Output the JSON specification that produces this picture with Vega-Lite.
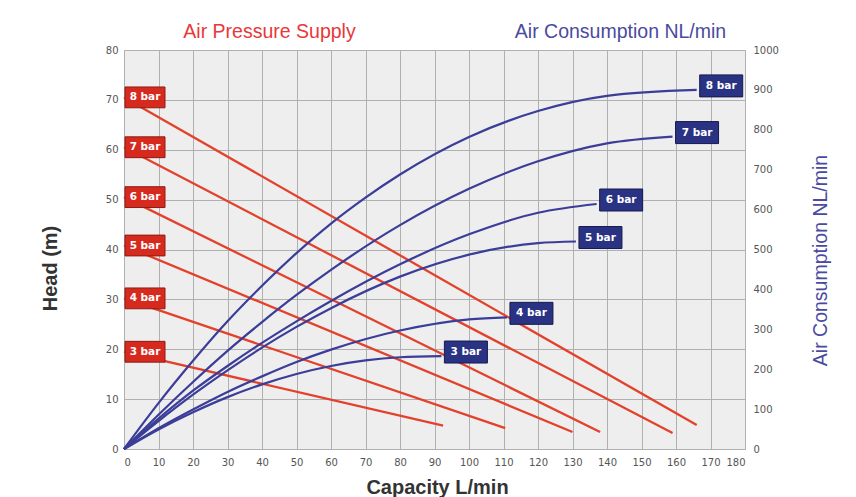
{
"$schema": "https://vega.github.io/schema/vega-lite/v6.json",
"width": 621, "height": 399,
"autosize": {"type": "none"},
"padding": {"left": 124, "top": 50, "right": 111, "bottom": 48},
"background": "#ffffff",
"config": {
  "view": {"fill": "#eeeeee", "stroke": "#a8a8a8", "strokeWidth": 1},
  "axis": {"labelFont": "DejaVu Sans", "labelFontSize": 10, "labelColor": "#555555", "ticks": false, "domain": false, "gridColor": "#b0b0b0", "gridWidth": 1, "titleFont": "Liberation Sans"}
},
"datasets": {
  "pressure": [
    {"bar": "8 bar", "capacity": 0, "head": 70.5}, {"bar": "8 bar", "capacity": 166, "head": 4.8},
    {"bar": "7 bar", "capacity": 0, "head": 60.5}, {"bar": "7 bar", "capacity": 159, "head": 3.2},
    {"bar": "6 bar", "capacity": 0, "head": 50.5}, {"bar": "6 bar", "capacity": 138, "head": 3.4},
    {"bar": "5 bar", "capacity": 0, "head": 40.8}, {"bar": "5 bar", "capacity": 130, "head": 3.4},
    {"bar": "4 bar", "capacity": 0, "head": 30.2}, {"bar": "4 bar", "capacity": 110.5, "head": 4.2},
    {"bar": "3 bar", "capacity": 0, "head": 19.5}, {"bar": "3 bar", "capacity": 92.5, "head": 4.7}
  ],
  "air": [
    {"bar": "8 bar", "capacity": 0, "air": 0}, {"bar": "8 bar", "capacity": 10, "air": 115}, {"bar": "8 bar", "capacity": 20, "air": 221}, {"bar": "8 bar", "capacity": 30, "air": 320}, {"bar": "8 bar", "capacity": 40, "air": 409}, {"bar": "8 bar", "capacity": 50, "air": 491}, {"bar": "8 bar", "capacity": 60, "air": 565}, {"bar": "8 bar", "capacity": 70, "air": 630}, {"bar": "8 bar", "capacity": 80, "air": 688}, {"bar": "8 bar", "capacity": 100, "air": 782}, {"bar": "8 bar", "capacity": 120, "air": 847}, {"bar": "8 bar", "capacity": 140, "air": 885}, {"bar": "8 bar", "capacity": 166, "air": 900},
    {"bar": "7 bar", "capacity": 0, "air": 0}, {"bar": "7 bar", "capacity": 10, "air": 86}, {"bar": "7 bar", "capacity": 20, "air": 168}, {"bar": "7 bar", "capacity": 30, "air": 246}, {"bar": "7 bar", "capacity": 40, "air": 318}, {"bar": "7 bar", "capacity": 50, "air": 386}, {"bar": "7 bar", "capacity": 60, "air": 449}, {"bar": "7 bar", "capacity": 80, "air": 561}, {"bar": "7 bar", "capacity": 100, "air": 652}, {"bar": "7 bar", "capacity": 120, "air": 721}, {"bar": "7 bar", "capacity": 140, "air": 766}, {"bar": "7 bar", "capacity": 159, "air": 783},
    {"bar": "6 bar", "capacity": 0, "air": 0}, {"bar": "6 bar", "capacity": 10, "air": 76}, {"bar": "6 bar", "capacity": 20, "air": 146}, {"bar": "6 bar", "capacity": 30, "air": 208}, {"bar": "6 bar", "capacity": 40, "air": 266}, {"bar": "6 bar", "capacity": 50, "air": 320}, {"bar": "6 bar", "capacity": 60, "air": 371}, {"bar": "6 bar", "capacity": 80, "air": 463}, {"bar": "6 bar", "capacity": 100, "air": 538}, {"bar": "6 bar", "capacity": 120, "air": 592}, {"bar": "6 bar", "capacity": 137, "air": 614},
    {"bar": "5 bar", "capacity": 0, "air": 0}, {"bar": "5 bar", "capacity": 10, "air": 70}, {"bar": "5 bar", "capacity": 20, "air": 136}, {"bar": "5 bar", "capacity": 30, "air": 197}, {"bar": "5 bar", "capacity": 40, "air": 254}, {"bar": "5 bar", "capacity": 50, "air": 306}, {"bar": "5 bar", "capacity": 60, "air": 353}, {"bar": "5 bar", "capacity": 80, "air": 432}, {"bar": "5 bar", "capacity": 100, "air": 487}, {"bar": "5 bar", "capacity": 120, "air": 516}, {"bar": "5 bar", "capacity": 131, "air": 520},
    {"bar": "4 bar", "capacity": 0, "air": 0}, {"bar": "4 bar", "capacity": 10, "air": 52}, {"bar": "4 bar", "capacity": 20, "air": 99}, {"bar": "4 bar", "capacity": 30, "air": 143}, {"bar": "4 bar", "capacity": 40, "air": 182}, {"bar": "4 bar", "capacity": 50, "air": 218}, {"bar": "4 bar", "capacity": 60, "air": 249}, {"bar": "4 bar", "capacity": 80, "air": 297}, {"bar": "4 bar", "capacity": 100, "air": 325}, {"bar": "4 bar", "capacity": 111, "air": 330},
    {"bar": "3 bar", "capacity": 0, "air": 0}, {"bar": "3 bar", "capacity": 10, "air": 49}, {"bar": "3 bar", "capacity": 20, "air": 92}, {"bar": "3 bar", "capacity": 30, "air": 130}, {"bar": "3 bar", "capacity": 40, "air": 162}, {"bar": "3 bar", "capacity": 50, "air": 188}, {"bar": "3 bar", "capacity": 60, "air": 208}, {"bar": "3 bar", "capacity": 70, "air": 222}, {"bar": "3 bar", "capacity": 80, "air": 230}, {"bar": "3 bar", "capacity": 92, "air": 233}
  ]
},
"layer": [
  {
    "data": {"name": "pressure"},
    "mark": {"type": "line", "color": "#e3412b", "strokeWidth": 2.3},
    "encoding": {
      "x": {"field": "capacity", "type": "quantitative", "scale": {"domain": [0, 180], "nice": false},
        "axis": {"orient": "bottom", "values": [0,10,20,30,40,50,60,70,80,90,100,110,120,130,140,150,160,170,180], "grid": true, "labelPadding": 8,
          "title": "Capacity L/min", "titleFontSize": 20, "titleFontWeight": "bold", "titleColor": "#333333", "titleX": 313, "titleY": 38, "titleBaseline": "middle", "titleAlign": "center"}},
      "y": {"field": "head", "type": "quantitative", "scale": {"domain": [0, 80], "nice": false},
        "axis": {"orient": "left", "values": [0,10,20,30,40,50,60,70,80], "grid": true, "labelPadding": 6,
          "title": "Head (m)", "titleFontSize": 20, "titleFontWeight": "bold", "titleColor": "#333333", "titleX": -74, "titleY": 218, "titleAngle": 270, "titleBaseline": "middle", "titleAlign": "center"}},
      "detail": {"field": "bar", "type": "nominal"}
    }
  },
  {
    "data": {"name": "air"},
    "encoding": {
      "x": {"field": "capacity", "type": "quantitative", "scale": {"domain": [0, 180], "nice": false},
        "axis": {"orient": "top", "labels": false, "grid": false, "title": "Air Consumption NL/min", "titleFontSize": 19.5, "titleFontWeight": "normal", "titleColor": "#4a4aa0", "titleX": 496, "titleY": -13, "titleBaseline": "alphabetic", "titleAlign": "center"}},
      "y": {"field": "air", "type": "quantitative", "scale": {"domain": [0, 1000], "nice": false},
        "axis": {"orient": "right", "values": [0,100,200,300,400,500,600,700,800,900,1000], "format": "d", "grid": false, "labelPadding": 8,
          "title": "Air Consumption NL/min", "titleFontSize": 19.5, "titleFontWeight": "normal", "titleColor": "#4a4aa0", "titleX": 75, "titleY": 210, "titleAngle": 270, "titleBaseline": "middle", "titleAlign": "center"}}
    },
    "layer": [
      {"mark": {"type": "line", "color": "#3b3d98", "strokeWidth": 2.2, "interpolate": "monotone"},
       "encoding": {"detail": {"field": "bar", "type": "nominal"}}},
      {"transform": [{"joinaggregate": [{"op": "max", "field": "capacity", "as": "endCap"}], "groupby": ["bar"]}, {"filter": "datum.capacity == datum.endCap"}],
       "mark": {"type": "point", "shape": "M0.15,-0.75H2.3V0.35H0.15Z", "size": 1600, "filled": true, "fill": "#2a3383", "stroke": "#151a50", "strokeWidth": 1, "opacity": 1}},
      {"transform": [{"joinaggregate": [{"op": "max", "field": "capacity", "as": "endCap"}], "groupby": ["bar"]}, {"filter": "datum.capacity == datum.endCap"}],
       "mark": {"type": "text", "color": "#ffffff", "font": "DejaVu Sans", "fontWeight": "bold", "fontSize": 10.5, "dx": 24.5, "dy": -4, "align": "center", "baseline": "middle"},
       "encoding": {"text": {"field": "bar"}}}
    ]
  },
  {
    "data": {"name": "pressure"},
    "transform": [{"filter": "datum.capacity == 0"}],
    "encoding": {
      "x": {"field": "capacity", "type": "quantitative", "scale": {"domain": [0, 180], "nice": false},
        "axis": {"orient": "top", "labels": false, "grid": false, "title": "Air Pressure Supply", "titleFontSize": 19.5, "titleFontWeight": "normal", "titleColor": "#e8383a", "titleX": 145, "titleY": -13, "titleBaseline": "alphabetic", "titleAlign": "center"}},
      "y": {"field": "head", "type": "quantitative", "scale": {"domain": [0, 80], "nice": false}, "axis": null}
    },
    "layer": [
      {"mark": {"type": "point", "shape": "M0.05,-0.52H2.05V0.52H0.05Z", "size": 1600, "filled": true, "fill": "#d62a1f", "stroke": "#8e1a12", "strokeWidth": 1, "opacity": 1}},
      {"mark": {"type": "text", "color": "#ffffff", "font": "DejaVu Sans", "fontWeight": "bold", "fontSize": 10.5, "dx": 21, "align": "center", "baseline": "middle"},
       "encoding": {"text": {"field": "bar"}}}
    ]
  }
],
"resolve": {"scale": {"y": "independent"}, "axis": {"x": "independent", "y": "independent"}}
}
